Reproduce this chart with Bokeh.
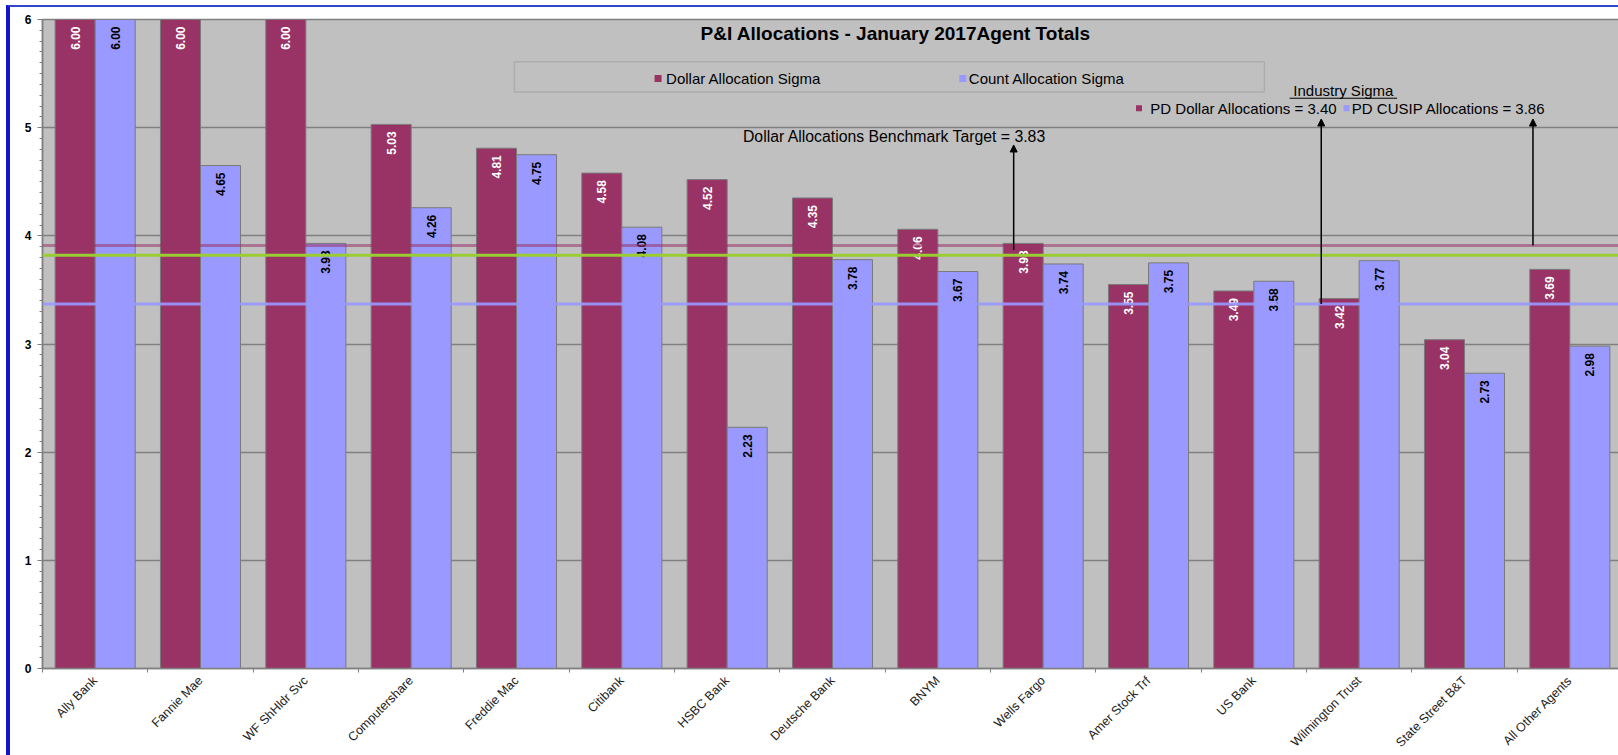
import math
from bokeh.plotting import figure
from bokeh.models import (Range1d, FixedTicker, SingleIntervalTicker, Span, Arrow,
                          NormalHead, Label, BoxAnnotation)
from bokeh.core.properties import value
from bokeh.embed import file_html
from bokeh.resources import INLINE

# ---------------- data ----------------
agents = ["Ally Bank", "Fannie Mae", "WF ShHldr Svc", "Computershare", "Freddie Mac",
          "Citibank", "HSBC Bank", "Deutsche Bank", "BNYM", "Wells Fargo",
          "Amer Stock Trf", "US Bank", "Wilmington Trust", "State Street B&T",
          "All Other Agents"]
dollar_sigma = [6.00, 6.00, 6.00, 5.03, 4.81, 4.58, 4.52, 4.35, 4.06, 3.93,
                3.55, 3.49, 3.42, 3.04, 3.69]
count_sigma = [6.00, 4.65, 3.93, 4.26, 4.75, 4.08, 2.23, 3.78, 3.67, 3.74,
               3.75, 3.58, 3.77, 2.73, 2.98]

series_names = ["Dollar Allocation Sigma", "Count Allocation Sigma"]
title_text = "P&I Allocations - January 2017Agent Totals"
benchmark_text = "Dollar Allocations Benchmark Target = 3.83"
industry_title = "Industry Sigma"
industry_texts = ["PD Dollar Allocations = 3.40", "PD CUSIP Allocations = 3.86"]

# reference lines as drawn in the chart
line_maroon = 3.91
line_green = 3.82
line_blue = 3.37

MAROON = "#993366"
PERI = "#9999FF"
GRID = "#808080"
FONT = "Liberation Sans"

p = figure(width=1612, height=750, x_range=Range1d(-0.5, 14.5), y_range=Range1d(0, 6),
           output_backend="svg", toolbar_location=None,
           min_border_left=32, min_border_top=12, min_border_right=0, min_border_bottom=85,
           background_fill_color="#C0C0C0", border_fill_color="white",
           outline_line_color=GRID, outline_line_width=1.5,
           styles={"border-left": "4px solid #1414CC", "border-top": "2px solid #3344CC",
                   "margin-left": "6px", "margin-top": "5px"})

# ---------------- bars ----------------
idx = list(range(len(agents)))
bw = 0.38
xm = [i - bw / 2 for i in idx]
xb = [i + bw / 2 for i in idx]
p.vbar(x=xm, top=dollar_sigma, width=bw, fill_color=MAROON, line_color="#7a7a7a", line_width=1)
p.vbar(x=xb, top=count_sigma, width=bw, fill_color=PERI, line_color="#7a7a7a", line_width=1)

# data labels (rotated, inside end)
p.text(x=xm, y=dollar_sigma, text=[f"{v:.2f}" for v in dollar_sigma], angle=math.pi / 2,
       text_align="right", text_baseline="middle", y_offset=7,
       text_font=value(FONT), text_font_size="12px", text_font_style="bold", text_color="white")
p.text(x=xb, y=count_sigma, text=[f"{v:.2f}" for v in count_sigma], angle=math.pi / 2,
       text_align="right", text_baseline="middle", y_offset=7,
       text_font=value(FONT), text_font_size="12px", text_font_style="bold", text_color="black")

# ---------------- reference lines ----------------
p.add_layout(Span(location=line_maroon, dimension="width", line_color=MAROON, line_alpha=0.55, line_width=3))
p.add_layout(Span(location=line_green, dimension="width", line_color="#9ACD32", line_width=3))
p.add_layout(Span(location=line_blue, dimension="width", line_color=PERI, line_alpha=0.9, line_width=3))

# ---------------- arrows ----------------
for xs, y0, y1 in [(8.72, 3.87, 4.84), (11.64, line_blue, 5.08), (13.65, line_maroon, 5.08)]:
    p.add_layout(Arrow(end=NormalHead(size=7, fill_color="black", line_color="black"),
                       x_start=xs, y_start=y0, x_end=xs, y_end=y1,
                       line_color="black", line_width=1.5))

# ---------------- title & texts ----------------
p.add_layout(Label(x=7.60, y=5.87, text=title_text, text_align="center", text_baseline="middle",
                   text_font=FONT, text_font_size="19px", text_font_style="bold", text_color="black"))

# legend box
p.add_layout(BoxAnnotation(left=3.98, right=11.10, bottom=5.33, top=5.61,
                           fill_alpha=0, line_color=GRID, line_width=1.5))
p.scatter(x=[5.344, 8.237], y=[5.455, 5.455], marker="square", size=7,
          fill_color=[MAROON, PERI], line_color=None)
for xt, t in [(5.42, series_names[0]), (8.294, series_names[1])]:
    p.add_layout(Label(x=xt, y=5.455, text=t, text_align="left", text_baseline="middle",
                       text_font=FONT, text_font_size="15px", text_color="black"))

# benchmark
p.add_layout(Label(x=6.15, y=4.915, text=benchmark_text, text_align="left", text_baseline="middle",
                   text_font=FONT, text_font_size="15.8px", text_color="black"))

# industry sigma
p.add_layout(Label(x=11.85, y=5.34, text=industry_title, text_align="center", text_baseline="middle",
                   text_font=FONT, text_font_size="15px", text_color="black"))
p.segment(x0=[11.34], y0=[5.272], x1=[12.36], y1=[5.272], line_color="black", line_width=1)
p.scatter(x=[9.91, 11.88], y=[5.18, 5.18], marker="square", size=6,
          fill_color=[MAROON, PERI], line_color=None)
for xt, t in [(10.017, industry_texts[0]), (11.93, industry_texts[1])]:
    p.add_layout(Label(x=xt, y=5.18, text=t, text_align="left", text_baseline="middle",
                       text_font=FONT, text_font_size="15px", text_color="black"))

# ---------------- axes ----------------
p.xgrid.grid_line_color = None
p.ygrid.grid_line_color = GRID
p.ygrid.grid_line_width = 1.5

yax = p.yaxis[0]
yax.ticker = SingleIntervalTicker(interval=1, num_minor_ticks=10)
yax.axis_line_color = GRID
yax.axis_line_width = 1.5
yax.major_tick_line_color = GRID
yax.major_tick_out = 5
yax.major_tick_in = 0
yax.minor_tick_line_color = GRID
yax.minor_tick_out = 3
yax.minor_tick_in = 0
yax.major_label_text_font = FONT
yax.major_label_text_font_style = "bold"
yax.major_label_text_font_size = "12px"
yax.major_label_text_color = "black"
yax.major_label_standoff = 6

xax = p.xaxis[0]
xax.ticker = FixedTicker(ticks=idx, minor_ticks=[i - 0.5 for i in range(len(agents) + 1)])
xax.major_label_overrides = {i: a for i, a in enumerate(agents)}
xax.major_label_orientation = math.pi / 4
xax.axis_line_color = GRID
xax.axis_line_width = 1.5
xax.major_tick_line_color = None
xax.minor_tick_line_color = GRID
xax.minor_tick_out = 4
xax.minor_tick_in = 0
xax.major_label_text_font = FONT
xax.major_label_text_font_size = "12.5px"
xax.major_label_text_color = "#222222"
xax.major_label_standoff = 4

open("out.html", "w").write(file_html(p, INLINE))
